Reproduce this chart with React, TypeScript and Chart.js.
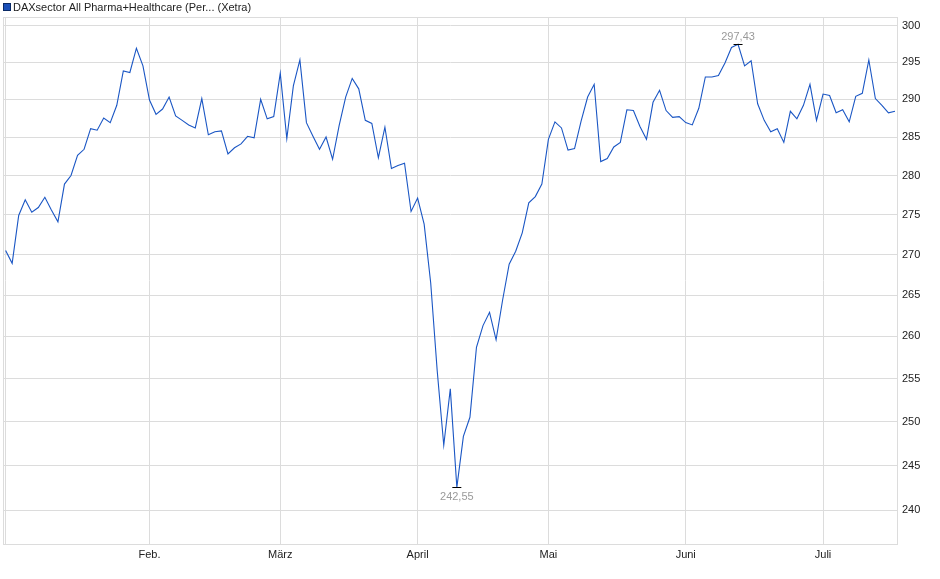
import React, { useEffect, useRef } from 'react';
import { Chart, registerables } from 'chart.js';

Chart.register(...registerables);

// ---- data ----
const seriesName = 'DAXsector All Pharma+Healthcare (Per... (Xetra)';
const monthLabels = ['', 'Feb.', 'März', 'April', 'Mai', 'Juni', 'Juli'];

const janValues = [270.5, 268.9, 274.9, 276.9, 275.3, 275.9, 277.2, 275.6, 274.1, 278.9, 280.0, 282.6, 283.4, 286.1, 285.9, 287.5, 286.9, 289.2, 293.8, 293.6, 296.9, 294.5];
const febValues = [289.9, 288.0, 288.7, 290.3, 287.8, 287.2, 286.6, 286.2, 290.1, 285.3, 285.7, 285.8, 282.8, 283.6, 284.1, 285.1, 284.9, 290.0, 287.4, 287.7];
const marValues = [293.5, 284.8, 291.8, 295.3, 286.9, 285.1, 283.4, 285.0, 282.1, 286.5, 290.3, 292.8, 291.4, 287.2, 286.8, 282.3, 286.3, 280.9, 281.3, 281.6, 275.4];
const aprValues = [277.1, 273.8, 266.5, 255.9, 247.3, 253.8, 242.55, 248.3, 250.5, 258.7, 261.3, 262.9, 259.6, 264.4, 268.8, 270.4, 272.7, 276.5, 277.3, 278.9];
const mayValues = [284.7, 287.0, 286.2, 283.3, 283.5, 287.1, 290.3, 292.0, 281.8, 282.2, 283.7, 284.3, 288.6, 288.5, 286.4, 284.7, 289.6, 291.2, 288.5, 287.6, 287.7];
const junValues = [286.9, 286.6, 288.8, 293.0, 293.0, 293.2, 294.9, 297.0, 297.43, 294.5, 295.2, 289.4, 287.2, 285.7, 286.1, 284.3, 288.4, 287.4, 289.2, 292.0, 287.2];
const julValues = [290.7, 290.5, 288.2, 288.6, 287.0, 290.4, 290.8, 295.3, 290.1, 289.2, 288.2, 288.4];

const monthSeries = [janValues, febValues, marValues, aprValues, mayValues, junValues, julValues];
const yTickValues = [240, 245, 250, 255, 260, 265, 270, 275, 280, 285, 290, 295, 300];

// ---- derived ----
const values: number[] = monthSeries.flat();
const monthStarts: number[] = [];
{
  let acc = 0;
  for (const m of monthSeries) {
    monthStarts.push(acc);
    acc += m.length;
  }
}
const points = values.map((v, i) => ({ x: i, y: v }));

const FONT = '"Liberation Sans", Arial, Helvetica, sans-serif';
const GRID = '#dcdcdc';

const fmt = (v: number) => v.toFixed(2).replace('.', ',');

const decorPlugin = {
  id: 'decor',
  afterDatasetsDraw(chart: any) {
    const { ctx, chartArea, scales } = chart;
    ctx.save();
    // frame
    ctx.strokeStyle = GRID;
    ctx.lineWidth = 1;
    ctx.strokeRect(
      Math.round(chartArea.left) + 0.5,
      Math.round(chartArea.top) + 0.5,
      Math.round(chartArea.right - chartArea.left) - 1,
      Math.round(chartArea.bottom - chartArea.top)
    );
    // extremes
    let maxI = 0;
    let minI = 0;
    values.forEach((v, i) => {
      if (v > values[maxI]) maxI = i;
      if (v < values[minI]) minI = i;
    });
    ctx.font = `11px ${FONT}`;
    ctx.textAlign = 'center';
    ctx.textBaseline = 'middle';
    const drawMark = (i: number, above: boolean) => {
      const px = scales.x.getPixelForValue(i);
      const py = Math.round(scales.y.getPixelForValue(values[i])) + 0.5;
      ctx.strokeStyle = '#000';
      ctx.beginPath();
      ctx.moveTo(px - 4.5, py);
      ctx.lineTo(px + 4.5, py);
      ctx.stroke();
      ctx.fillStyle = '#9a9a9a';
      ctx.fillText(fmt(values[i]), px, above ? py - 8 : py + 9.5);
    };
    drawMark(maxI, true);
    drawMark(minI, false);
    // legend / title
    ctx.fillStyle = '#1a4fb8';
    ctx.fillRect(4, 4, 6, 6);
    ctx.strokeStyle = '#0a2a66';
    ctx.strokeRect(3.5, 3.5, 7, 7);
    ctx.fillStyle = '#222';
    ctx.textAlign = 'left';
    ctx.textBaseline = 'middle';
    ctx.fillText(seriesName, 13, 7.5);
    ctx.restore();
  },
};

export default function App() {
  const ref = useRef<HTMLCanvasElement | null>(null);

  useEffect(() => {
    if (!ref.current) return;
    const chart = new Chart(ref.current, {
      type: 'line',
      data: {
        datasets: [
          {
            label: seriesName,
            data: points,
            borderColor: '#1a56c4',
            borderWidth: 1.1,
            pointRadius: 0,
            tension: 0,
            fill: false,
          },
        ],
      },
      options: {
        animation: false,
        responsive: false,
        devicePixelRatio: 1,
        layout: { padding: { left: 3, top: 17, right: 0, bottom: 0 } },
        plugins: {
          legend: { display: false },
          tooltip: { enabled: false },
          title: { display: false },
        },
        scales: {
          x: {
            type: 'linear',
            bounds: 'data',
            min: -0.4,
            max: values.length - 1 + 0.46,
            afterBuildTicks: (scale: any) => {
              scale.ticks = monthStarts.map((v) => ({ value: v }));
            },
            afterFit: (scale: any) => {
              scale.height = 35;
            },
            ticks: {
              autoSkip: false,
              maxRotation: 0,
              padding: 4,
              color: '#222',
              font: { family: FONT, size: 11 },
              callback: (v: any) => {
                const k = monthStarts.indexOf(Number(v));
                return k >= 0 ? monthLabels[k] : '';
              },
            },
            grid: { color: GRID, drawTicks: false, lineWidth: 1 },
            border: { display: false },
          },
          y: {
            type: 'logarithmic',
            position: 'right',
            bounds: 'data',
            min: 236.3,
            max: 301.2,
            afterBuildTicks: (scale: any) => {
              scale.ticks = yTickValues.map((v) => ({ value: v }));
            },
            afterFit: (scale: any) => {
              scale.width = 42;
            },
            ticks: {
              autoSkip: false,
              padding: 4,
              color: '#222',
              font: { family: FONT, size: 11 },
              callback: (v: any) => String(v),
            },
            grid: { color: GRID, drawTicks: false, lineWidth: 1 },
            border: { display: false },
          },
        },
      },
      plugins: [decorPlugin],
    } as any);
    return () => chart.destroy();
  }, []);

  return (
    <div style={{ position: 'absolute', left: 0, top: 0, width: 940, height: 579, background: '#fff' }}>
      <canvas ref={ref} width={940} height={579} style={{ display: 'block', width: 940, height: 579 }} />
    </div>
  );
}
